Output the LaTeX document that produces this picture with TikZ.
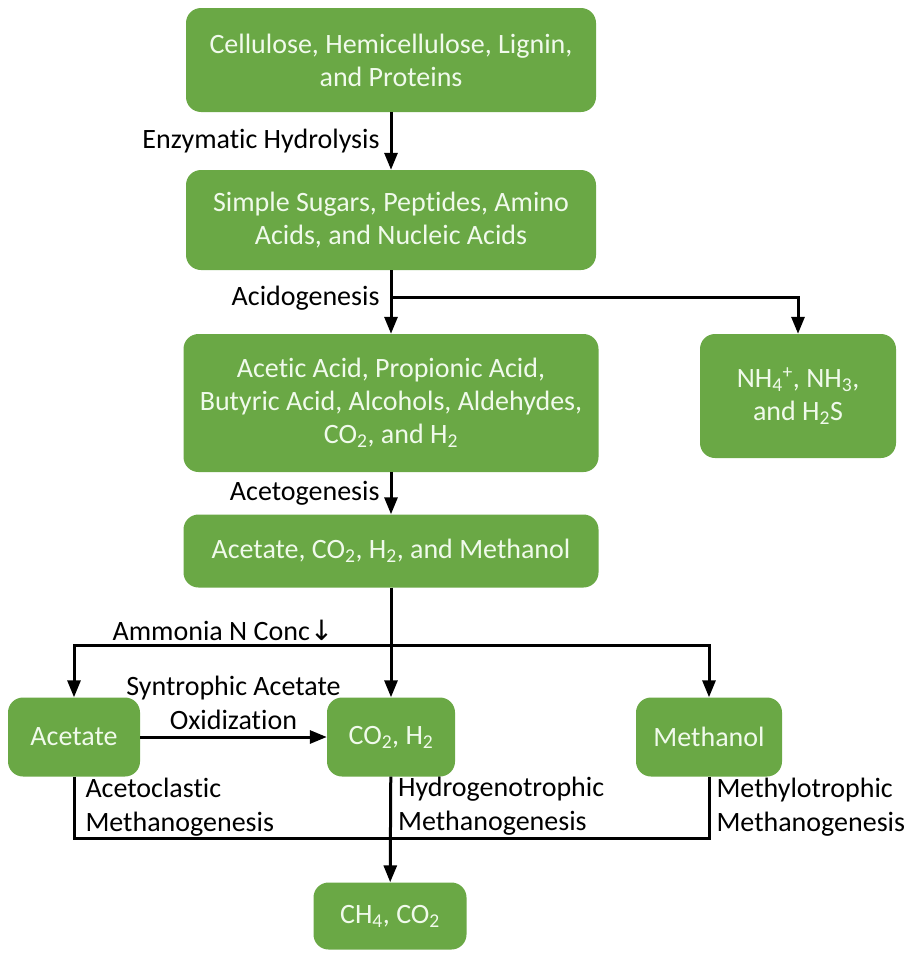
\documentclass[tikz,border=0pt]{standalone}
\usepackage{fontspec}
\setmainfont[Ligatures=NoCommon]{Carlito}
\newfontfamily\arrowfont{DejaVu Sans}
\usetikzlibrary{positioning,arrows.meta}
\definecolor{boxgreen}{RGB}{106,168,69}
\definecolor{boxtext}{RGB}{240,250,235}

\begin{document}
\begin{tikzpicture}[x=1pt,y=-1pt,
    stage/.style={fill=boxgreen, rounded corners=15pt, text=boxtext, align=center,
        font=\fontsize{28}{33}\selectfont, inner sep=0pt},
    lbl/.style={font=\fontsize{28}{34}\selectfont, inner sep=2pt},
    flow/.style={line width=3pt, -{Triangle[length=17pt,width=13pt]}},
    plain/.style={line width=3pt}]

    \useasboundingbox (0,0) rectangle (906,953);

    \node[stage, minimum width=410, minimum height=104] (lig) at (391,60) {Cellulose, Hemicellulose, Lignin,\\and Proteins};
    \node[stage, minimum width=410, minimum height=100] (sug) at (391,220) {Simple Sugars, Peptides, Amino\\Acids, and Nucleic Acids};
    \node[stage, minimum width=415, minimum height=138] (vfa) at (391,403) {Acetic Acid, Propionic Acid,\\Butyric Acid, Alcohols, Aldehydes,\\CO\textsubscript{2}, and H\textsubscript{2}};
    \node[stage, minimum width=196, minimum height=124] (nh) at (798,396) {NH\textsubscript{4}\textsuperscript{+}, NH\textsubscript{3},\\and H\textsubscript{2}S};
    \node[stage, minimum width=415, minimum height=73] (mix) at (391,551) {Acetate, CO\textsubscript{2}, H\textsubscript{2}, and Methanol};
    \node[stage, minimum width=132, minimum height=79] (acet) at (74,737) {Acetate};
    \node[stage, minimum width=128, minimum height=79] (coh) at (391,737) {CO\textsubscript{2}, H\textsubscript{2}};
    \node[stage, minimum width=146, minimum height=79] (meth) at (709,737) {Methanol};
    \node[stage, minimum width=153, minimum height=67] (ch) at (390,916) {CH\textsubscript{4}, CO\textsubscript{2}};

    \coordinate (split) at (391,297);
    \coordinate (fork) at (391,645);
    \coordinate (merge) at (391,838);

    \draw[flow] (lig) -- node[lbl, left=8pt] {Enzymatic Hydrolysis} (sug);
    \draw[flow] (sug) -- node[lbl, left=8pt, yshift=4pt] {Acidogenesis} (vfa);
    \draw[flow] (split) -| (nh);
    \draw[flow] (vfa) -- node[lbl, left=8pt] {Acetogenesis} (mix);
    \draw[flow] (mix) -- (coh);
    \draw[flow] (fork) -| node[lbl, pos=0.265, above=1pt] {Ammonia N Conc{\arrowfont ↓}} (acet);
    \draw[flow] (fork) -| (meth);
    \draw[flow] (acet) -- node[lbl, above=4pt, align=center] {Syntrophic Acetate\\Oxidization} (coh);

    \draw[plain] (acet) |- node[lbl, pos=0.25, right=8pt, align=left] {Acetoclastic\\Methanogenesis} (merge);
    \draw[plain] (meth) |- node[lbl, pos=0.25, right=4pt, align=left] {Methylotrophic\\Methanogenesis} (merge);
    \draw[flow] (coh) -- node[lbl, pos=0.28, right=4pt, align=left] {Hydrogenotrophic\\Methanogenesis} (ch);

\end{tikzpicture}
\end{document}
